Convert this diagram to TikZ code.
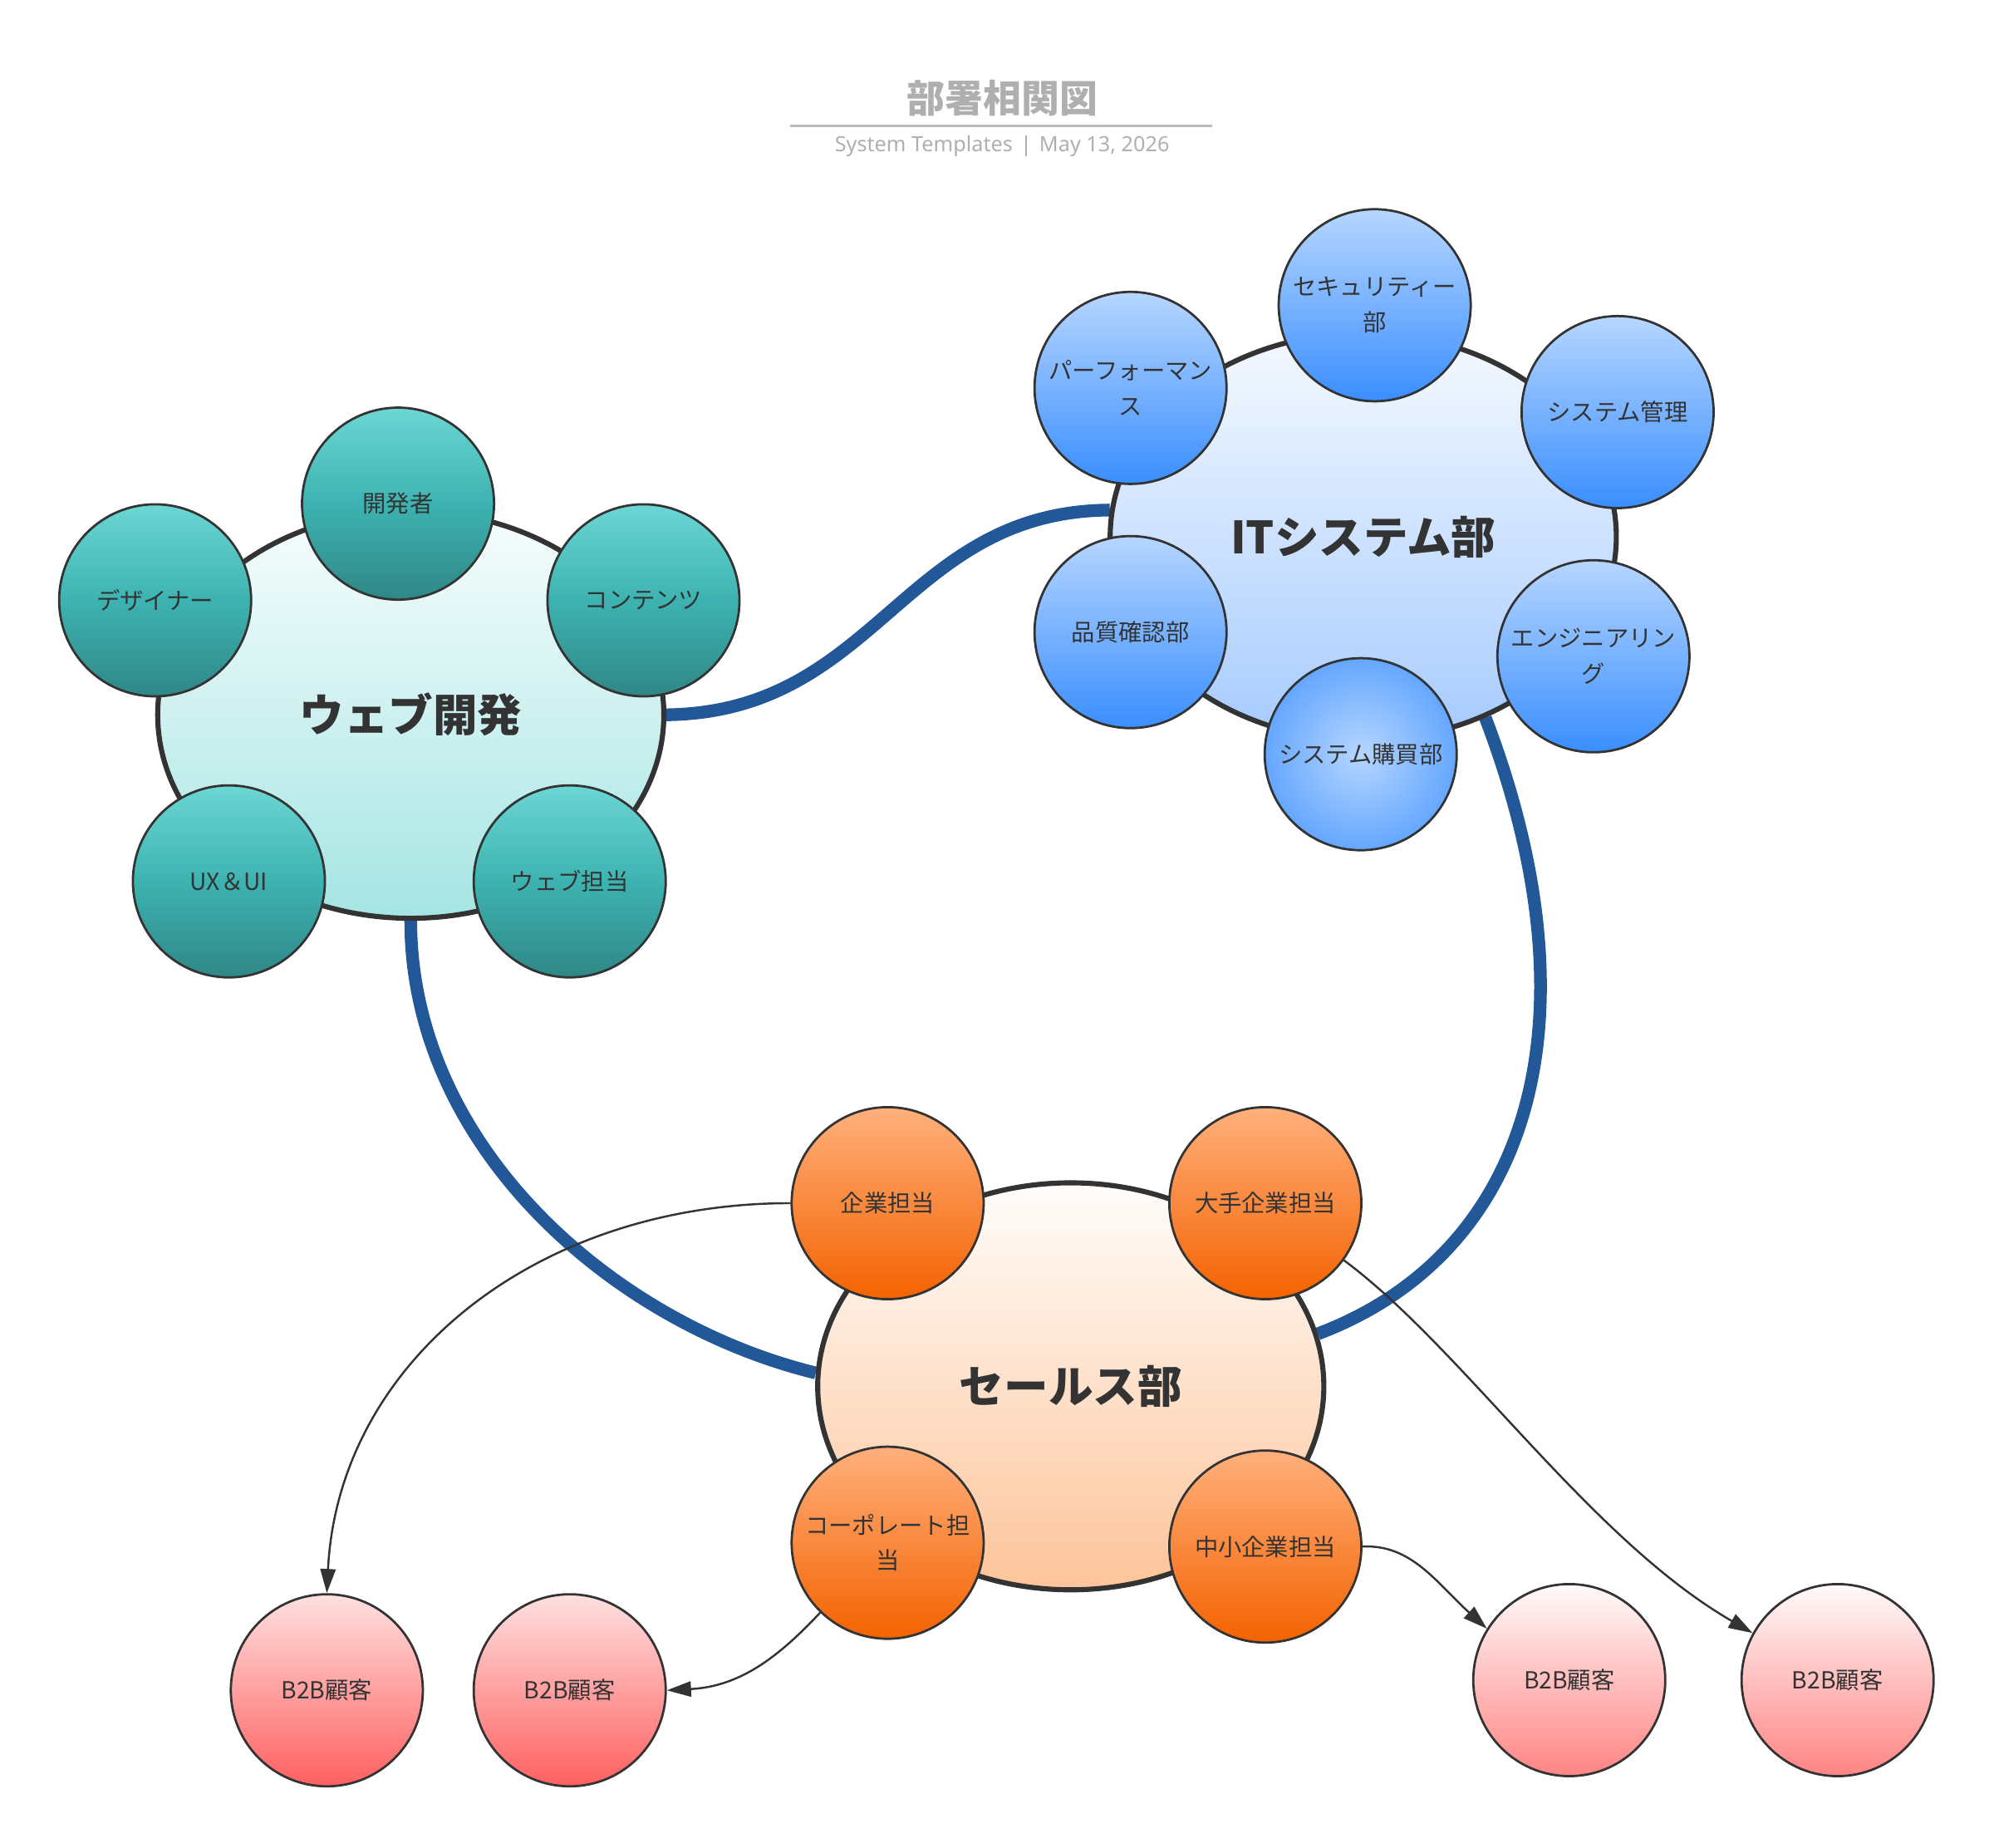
\documentclass[tikz,border=0pt]{standalone}
\usepackage{fontspec}
\setmainfont{Noto Sans CJK JP}
\newfontfamily\latinfont{Noto Sans}
\usepackage{tikz}
\usetikzlibrary{arrows.meta,positioning,shapes.geometric,backgrounds}
\definecolor{textgray}{HTML}{333333}
\definecolor{titlegray}{HTML}{AFAFAF}
\definecolor{rulegray}{HTML}{BBBBBB}
\definecolor{linkblue}{HTML}{235898}
\definecolor{webtop}{HTML}{6CD6D3}
\definecolor{webmid}{HTML}{3DB3B1}
\definecolor{webbot}{HTML}{2F8786}
\definecolor{webbigtop}{HTML}{F7FDFD}
\definecolor{webbigbot}{HTML}{A5E5E3}
\definecolor{ittop}{HTML}{B6D6FF}
\definecolor{itbot}{HTML}{3A8EFF}
\definecolor{itbigtop}{HTML}{F5F9FF}
\definecolor{itbigbot}{HTML}{A6CBFF}
\definecolor{saletop}{HTML}{FFB07C}
\definecolor{salebot}{HTML}{F46200}
\definecolor{salebigtop}{HTML}{FFFDFB}
\definecolor{salebigbot}{HTML}{FDC49A}
\definecolor{custtop}{HTML}{FFE0E0}
\definecolor{custbot}{HTML}{FF6060}
\definecolor{custtopb}{HTML}{FFFAFA}
\definecolor{custbotb}{HTML}{FF8484}
\pgfdeclareradialshading{buyshade}{\pgfpoint{0bp}{0bp}}{color(0bp)=(ittop); color(38bp)=(itbot); color(50bp)=(itbot)}
\tikzstyle{bigcirc}=[ellipse,draw=textgray,line width=4pt,minimum width=398pt,minimum height=320pt,
                  inner sep=0pt,text=textgray,font=\fontsize{35}{40}\selectfont\bfseries]
\tikzstyle{webbig}=[bigcirc,top color=webbigtop,bottom color=webbigbot]
\tikzstyle{itbig}=[bigcirc,top color=itbigtop,bottom color=itbigbot]
\tikzstyle{salesbig}=[bigcirc,top color=salebigtop,bottom color=salebigbot]
\tikzstyle{subcirc}=[circle,draw=textgray,line width=1.8pt,minimum size=151pt,inner sep=0pt,
                  align=center,text=textgray,font=\fontsize{18.5}{28}\selectfont]
\tikzstyle{websub}=[subcirc,top color=webtop,bottom color=webbot,middle color=webmid]
\tikzstyle{itsub}=[subcirc,top color=ittop,bottom color=itbot]
\tikzstyle{buysub}=[subcirc,shading=buyshade]
\tikzstyle{salesub}=[subcirc,top color=saletop,bottom color=salebot]
\tikzstyle{custa}=[subcirc,top color=custtop,bottom color=custbot]
\tikzstyle{custb}=[subcirc,top color=custtopb,bottom color=custbotb]
\tikzstyle{link}=[line width=10pt,draw=linkblue]
\tikzstyle{arrow}=[-{Triangle[length=19pt,width=12pt]},line width=1.6pt,draw=textgray]

\begin{document}
\begin{tikzpicture}[x=1pt,y=-1pt]
      \useasboundingbox (0,0) rectangle (1568,1453);
      \node[text=titlegray,font=\fontsize{30}{34}\selectfont\bfseries] (title) at (788,77) {部署相関図};
      \draw[rulegray,line width=2pt] (621,99) -- (953,99);
      \node[text=titlegray,font=\latinfont\fontsize{16.5}{20}\selectfont] (subtitle) at (788,115)
        {System Templates\hspace{10pt}\rule[-3pt]{0.9pt}{16pt}\hspace{10pt}May 13, 2026};

      \node[webbig] (web) at (323,562) {ウェブ開発};
      \node[itbig] (it) at (1072,422) {ITシステム部};
      \node[salesbig] (sales) at (842,1090) {セールス部};

      \node[websub] (dev) at (313,396) {開発者};
      \node[websub] (design) at (122,472) {デザイナー};
      \node[websub] (content) at (506,472) {コンテンツ};
      \node[websub] (uxui) at (180,693) {UX＆UI};
      \node[websub] (webstaff) at (448,693) {ウェブ担当};

      \node[itsub] (security) at (1081,240) {セキュリティー\\部};
      \node[itsub] (perf) at (889,305) {パーフォーマン\\ス};
      \node[itsub] (sysadmin) at (1272,324) {システム管理};
      \node[itsub] (qa) at (889,497) {品質確認部};
      \node[itsub] (eng) at (1253,516) {エンジニアリン\\グ};
      \node[buysub] (purchase) at (1070,593) {システム購買部};

      \node[salesub] (corp) at (698,946) {企業担当};
      \node[salesub] (large) at (995,946) {大手企業担当};
      \node[salesub] (corporate) at (698,1213) {コーポレート担\\当};
      \node[salesub] (smb) at (995,1216) {中小企業担当};

      \node[custa] (cust1) at (257,1329) {B2B顧客};
      \node[custa] (cust2) at (448,1329) {B2B顧客};
      \node[custb] (cust3) at (1234,1321) {B2B顧客};
      \node[custb] (cust4) at (1445,1321) {B2B顧客};

      \begin{scope}[on background layer]
      \draw[link] (web.east) .. controls (690,560) and (710,402) .. (it.174);
      \draw[link] (web.south) .. controls (323,900) and (480,1040) .. (sales.177);
      \draw[link] (it.-56) .. controls (1258,800) and (1205,985) .. (sales.12);
      \end{scope}

      \draw[arrow] (corp.west) .. controls (420,946) and (266,1072) .. (cust1.north);
      \draw[arrow] (corporate.226) .. controls (612,1303) and (582,1326) .. (cust2.east);
      \draw[arrow] (smb.east) .. controls (1110,1214) and (1130,1245) .. (cust3.148);
      \draw[arrow] (large.-36) .. controls (1150,1060) and (1250,1210) .. (cust4.151);
    \end{tikzpicture}
\end{document}
